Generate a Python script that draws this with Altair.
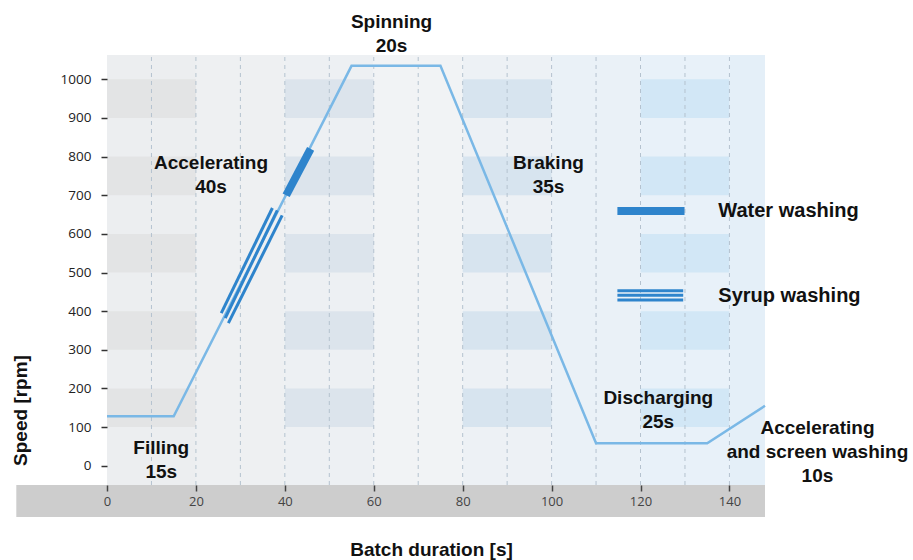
import altair as alt
import pandas as pd

# ---- data ----
profile_t = [0, 15, 55, 75, 110, 135, 148]
profile_rpm = [128, 128, 1035, 1035, 58, 58, 155]

water_t0, water_rpm0 = [40.3], [700]
water_t1, water_rpm1 = [45.8], [820]

syrup_t0 = [25.7, 26.6, 27.3]
syrup_rpm0 = [395, 382, 369]
syrup_t1 = [37.2, 38.3, 39.4]
syrup_rpm1 = [667, 661, 648]

phase_labels = ["Filling\n15s", "Accelerating\n40s", "Spinning\n20s", "Braking\n35s",
                "Discharging\n25s", "Accelerating\nand screen washing\n10s"]
phase_t = [12.2, 23.4, 64.0, 99.3, 124.0, 159.8]
phase_rpm = [46, 783, 1148, 783, 175, 98]

legend_labels = ["Water washing", "Syrup washing"]
legend_rpm = [659, 440]

x_ticks = [0, 20, 40, 60, 80, 100, 120, 140]
y_ticks = [0, 100, 200, 300, 400, 500, 600, 700, 800, 900, 1000]
grid_t = [10, 20, 30, 40, 50, 60, 70, 80, 90, 100, 110, 120, 130, 140]

col_start = [0, 20, 40, 60, 80, 100, 120, 140]
col_end = [20, 40, 60, 80, 100, 120, 140, 148]
patch_col_start = [0, 40, 80, 120]
patch_col_end = [20, 60, 100, 140]
patch_rpm_start = [100, 300, 500, 700, 900]
patch_rpm_end = [200, 400, 600, 800, 1000]

X_DOM = [0, 148]
Y_DOM = [-50, 1063]

col_colors = ["#eceef0", "#eef0f2", "#edf0f3", "#f1f3f5", "#edf1f5", "#eaf1f7", "#e8f1f9", "#e4eff8"]
patch_colors = ["#e3e4e5", "#dce4ec", "#d7e4ef", "#d2e7f6"]

# ---- shared encodings ----
xaxis = alt.Axis(values=x_ticks, title="Batch duration [s]", grid=False, domain=False,
                 format="d",
                 tickSize=6, tickColor="#444", tickWidth=1.5,
                 labelFont="Open Sans", labelFontSize=13, labelColor="#444", labelPadding=4,
                 labelFlush=False,
                 titleFont="Liberation Sans", titleFontSize=19, titleFontWeight="bold",
                 titleColor="#111", titleX=324, titleY=64, titleBaseline="middle",
                 titleAlign="center", zindex=1)
yaxis = alt.Axis(values=y_ticks, title="Speed [rpm]", grid=False, domain=False,
                 format="d",
                 tickSize=6, tickColor="#333", tickWidth=1.5,
                 labelFont="Open Sans", labelFontSize=13.5, labelColor="#222", labelPadding=10,
                 titleFont="Liberation Sans", titleFontSize=19, titleFontWeight="bold",
                 titleColor="#111", titleX=-87, titleY=355, titleAngle=270,
                 titleBaseline="middle", titleAlign="center", zindex=1)

def X(f="t"):
    return alt.X(f"{f}:Q", scale=alt.Scale(domain=X_DOM, nice=False, zero=False), axis=xaxis)

def Y(f="rpm"):
    return alt.Y(f"{f}:Q", scale=alt.Scale(domain=Y_DOM, nice=False, zero=False), axis=yaxis)

# ---- tables ----
cols = pd.DataFrame({"t": col_start, "t2": col_end, "col": [str(i) for i in range(len(col_start))]})
cols["rpm"] = Y_DOM[0]
cols["rpm2"] = Y_DOM[1]

patches = pd.DataFrame([
    {"t": a, "t2": b, "rpm": c, "rpm2": d, "pc": str(i)}
    for i, (a, b) in enumerate(zip(patch_col_start, patch_col_end))
    for c, d in zip(patch_rpm_start, patch_rpm_end)
])

band = pd.DataFrame({"t": [-20.4], "t2": [X_DOM[1]], "rpm": [Y_DOM[0]], "rpm2": [-133]})

grid = pd.DataFrame({"t": grid_t})
grid["rpm"] = Y_DOM[0]
grid["rpm2"] = Y_DOM[1]

profile = pd.DataFrame({"t": profile_t, "rpm": profile_rpm})
water = pd.DataFrame({"t": water_t0, "rpm": water_rpm0, "t2": water_t1, "rpm2": water_rpm1})
syrup = pd.DataFrame({"t": syrup_t0, "rpm": syrup_rpm0, "t2": syrup_t1, "rpm2": syrup_rpm1})
phases = pd.DataFrame({"t": phase_t, "rpm": phase_rpm, "label": phase_labels})

leg_water = pd.DataFrame({"t": [114.8], "t2": [129.9], "rpm": [legend_rpm[0]]})
leg_syrup = pd.DataFrame({"t": [114.8] * 3, "t2": [129.6] * 3, "rpm": [453, 441, 429]})
leg_text = pd.DataFrame({"t": [137.5, 137.5], "rpm": legend_rpm, "label": legend_labels})

# ---- layers ----
band_l = alt.Chart(band).mark_rect(color="#cdcdcd").encode(x=X(), x2="t2:Q", y=Y(), y2="rpm2:Q")

cols_l = alt.Chart(cols).mark_rect().encode(
    x=X(), x2="t2:Q", y=Y(), y2="rpm2:Q",
    color=alt.Color("col:N", scale=alt.Scale(domain=[str(i) for i in range(8)], range=col_colors), legend=None))

patch_l = alt.Chart(patches).mark_rect().encode(
    x=X(), x2="t2:Q", y=Y(), y2="rpm2:Q",
    fill=alt.Fill("pc:N", scale=alt.Scale(domain=["0", "1", "2", "3"], range=patch_colors), legend=None))

grid_l = alt.Chart(grid).mark_rule(color="#b4c2cf", strokeDash=[4, 4], strokeWidth=1).encode(
    x=X(), y=Y(), y2="rpm2:Q")

line_l = alt.Chart(profile).mark_line(color="#7ab8e6", strokeWidth=2.5).encode(x=X(), y=Y())

syrup_l = alt.Chart(syrup).mark_rule(color="#2e84cc", strokeWidth=3).encode(
    x=X(), y=Y(), x2="t2:Q", y2="rpm2:Q")

water_l = alt.Chart(water).mark_rule(color="#2e84cc", strokeWidth=8).encode(
    x=X(), y=Y(), x2="t2:Q", y2="rpm2:Q")

legw_l = alt.Chart(leg_water).mark_rule(color="#2e84cc", strokeWidth=8).encode(
    x=X(), x2="t2:Q", y=Y())
legs_l = alt.Chart(leg_syrup).mark_rule(color="#2e84cc", strokeWidth=3).encode(
    x=X(), x2="t2:Q", y=Y())
legt_l = alt.Chart(leg_text).mark_text(
    font="Liberation Sans", fontSize=20, fontWeight="bold", color="#111",
    align="left", baseline="middle").encode(x=X(), y=Y(), text="label:N")

phase_l = alt.Chart(phases).mark_text(
    font="Liberation Sans", fontSize=19, fontWeight="bold", color="#111",
    align="center", baseline="middle", lineBreak="\n", lineHeight=24).encode(
    x=X(), y=Y(), text="label:N")

chart = alt.layer(
    band_l, cols_l, patch_l, grid_l, line_l, syrup_l, water_l,
    legw_l, legs_l, legt_l, phase_l
).properties(
    width=658, height=430,
    padding={"left": 107, "top": 55, "right": 148, "bottom": 75},
    autosize=alt.AutoSizeParams(type="none"),
    background="white",
).configure_view(stroke=None)

chart.save("out.html", embed_options={"renderer": "svg", "actions": False})
